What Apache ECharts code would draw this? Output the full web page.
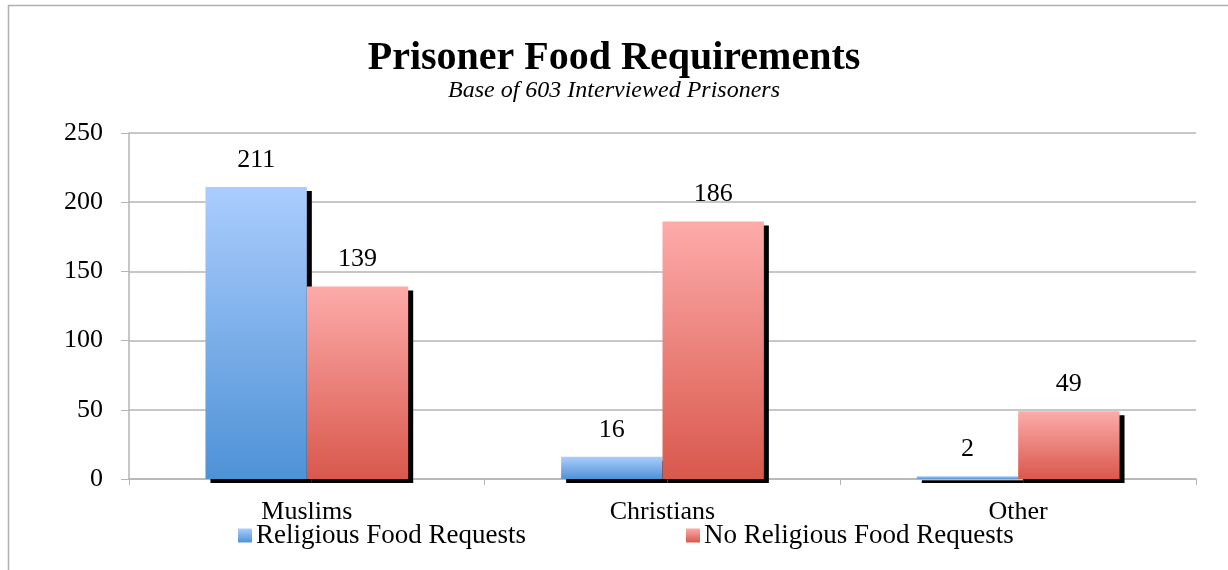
<!DOCTYPE html>
<html>
<head>
<meta charset="utf-8">
<script src="https://cdn.jsdelivr.net/npm/echarts@6/dist/echarts.min.js"></script>
<style>
  html, body { margin: 0; padding: 0; background: #fff; }
  #chart { width: 1228px; height: 570px; }
</style>
</head>
<body>
<div id="chart"></div>
<script>
// ====== data ======
const categories = ["Muslims", "Christians", "Other"];
const religiousRequests = [211, 16, 2];
const noReligiousRequests = [139, 186, 49];
const yTicks = [0, 50, 100, 150, 200, 250];

const FONT = "'Liberation Serif', serif";

const chart = echarts.init(document.getElementById("chart"));

const grad = (top, bottom) =>
  new echarts.graphic.LinearGradient(0, 0, 0, 1, [
    { offset: 0, color: top },
    { offset: 1, color: bottom },
  ]);

const labelStyle = {
  show: true,
  position: "top",
  distance: 14,
  color: "#000",
  fontFamily: FONT,
  fontSize: 26,
};

const legendText = { fontFamily: FONT, fontSize: 27, color: "#000", padding: [0, 0, 0, -1] };

const option = {
  animation: false,
  backgroundColor: "#fff",
  title: [
    {
      text: "Prisoner Food Requirements",
      left: "center",
      top: 34,
      textStyle: { fontFamily: FONT, fontWeight: "bold", fontSize: 40, color: "#000" },
    },
    {
      text: "Base of 603 Interviewed Prisoners",
      left: "center",
      top: 74,
      textStyle: { fontFamily: FONT, fontStyle: "italic", fontWeight: "normal", fontSize: 24, color: "#000" },
    },
  ],
  legend: [
    {
      data: ["Religious Food Requests"],
      left: 238,
      top: 522,
      padding: 0,
      itemWidth: 14,
      itemHeight: 14,
      icon: "rect",
      textStyle: legendText,
    },
    {
      data: ["No Religious Food Requests"],
      left: 686,
      top: 522,
      padding: 0,
      itemWidth: 14,
      itemHeight: 14,
      icon: "rect",
      textStyle: legendText,
    },
  ],
  grid: { left: 129, right: 32, top: 133, bottom: 91 },
  xAxis: {
    type: "category",
    data: categories,
    axisLine: { lineStyle: { color: "#b5b5b5", width: 1.5 } },
    axisTick: { show: true, length: 6, lineStyle: { color: "#b5b5b5" } },
    axisLabel: { color: "#000", fontFamily: FONT, fontSize: 26, margin: 20 },
  },
  yAxis: {
    type: "value",
    min: yTicks[0],
    max: yTicks[yTicks.length - 1],
    interval: 50,
    axisLine: { show: true, lineStyle: { color: "#b5b5b5", width: 1.5 } },
    axisTick: { show: true, length: 8, lineStyle: { color: "#b5b5b5" } },
    axisLabel: { color: "#000", fontFamily: FONT, fontSize: 26, margin: 26 },
    splitLine: { lineStyle: { color: "#b5b5b5", width: 1.5 } },
  },
  series: [
    {
      name: "Religious Food Requests",
      type: "bar",
      data: religiousRequests,
      barGap: "0%",
      barCategoryGap: "43%",
      itemStyle: {
        color: grad("#abcdfd", "#4e92d6"),
        shadowColor: "#000",
        shadowOffsetX: 5,
        shadowOffsetY: 4,
        shadowBlur: 0,
      },
      label: labelStyle,
    },
    {
      name: "No Religious Food Requests",
      type: "bar",
      data: noReligiousRequests,
      itemStyle: {
        color: grad("#fdabaa", "#d9584c"),
        shadowColor: "#000",
        shadowOffsetX: 5,
        shadowOffsetY: 4,
        shadowBlur: 0,
      },
      label: labelStyle,
    },
  ],
  graphic: [
    {
      type: "polyline",
      shape: { points: [[8.5, 570], [8.5, 5.5], [1228, 5.5]] },
      style: { stroke: "#b0b0b0", lineWidth: 1.5, fill: null },
      silent: true,
    },
  ],
};

chart.setOption(option);
</script>
</body>
</html>
